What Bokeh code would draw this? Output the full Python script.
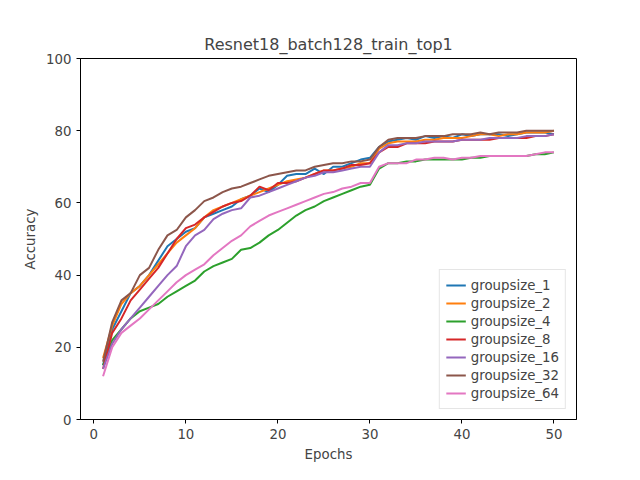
from bokeh.plotting import figure
from bokeh.embed import file_html
from bokeh.resources import INLINE
from bokeh.models import Range1d, Legend, FixedTicker

epochs = list(range(1, 51))
labels = ["groupsize_1", "groupsize_2", "groupsize_4", "groupsize_8",
          "groupsize_16", "groupsize_32", "groupsize_64"]
colors = ["#1f77b4", "#ff7f0e", "#2ca02c", "#d62728", "#9467bd", "#8c564b", "#e377c2"]

gs1 = [15, 25, 30, 35, 37, 40, 44, 48, 50, 52, 53, 56, 57, 58, 59, 61, 62, 64, 63, 65,
       67.5, 68, 68, 69.5, 68, 70, 70, 71, 72, 72.5, 75.5, 77, 77.5, 78, 77.5, 78.5, 78, 78.5, 78, 79,
       78.5, 79, 79, 79, 78.5, 79, 79.5, 79.5, 79.5, 79]
gs2 = [17, 26, 32, 35, 37, 40, 43, 46, 49, 51, 53, 56, 58, 59, 60, 61, 62, 63, 64, 65,
       66, 66.5, 67, 68, 69, 69, 69.5, 70, 71, 71, 75, 76.5, 77, 77, 77, 77.5, 77.5, 78, 78, 78,
       78.5, 79, 79, 78.5, 79, 79, 79.5, 79.5, 79.5, 80]
gs4 = [15, 22, 25, 28, 30, 31, 32, 34, 35.5, 37, 38.5, 41, 42.5, 43.5, 44.5, 47, 47.5, 49, 51, 52.5,
       54.5, 56.5, 58, 59, 60.5, 61.5, 62.5, 63.5, 64.5, 65, 69.5, 71, 71, 71.5, 71.5, 72, 72, 72, 72, 72,
       72.5, 72.5, 73, 73, 73, 73, 73, 73.5, 73.5, 74]
gs8 = [14, 24, 28, 33, 36, 39, 42, 46, 50, 53, 54, 56, 57.5, 59, 60, 60.5, 62, 64.5, 63.5, 65.5,
       65.5, 66, 67, 68, 69, 69, 69.5, 70.5, 70.5, 71, 74, 75.5, 75.5, 76.5, 76.5, 76.5, 77, 77, 77, 77.5,
       77.5, 77.5, 77.5, 78, 78, 78, 78, 78.5, 78.5, 79]
gs16 = [14, 21, 25, 28, 31, 34, 37, 40, 42.5, 48, 51, 52.5, 55.5, 57, 58, 58.5, 61.5, 62, 63, 64,
        65, 66, 67, 67.5, 68.5, 68.5, 69, 69.5, 70, 70, 74, 76, 76, 76.5, 76.5, 77, 77, 77, 77, 77.5,
        77.5, 77.5, 78, 78, 78, 78, 78.5, 78.5, 78.5, 79]
gs32 = [16, 27, 33, 35, 40, 42, 47, 51, 52.5, 56, 58, 60.5, 61.5, 63, 64, 64.5, 65.5, 66.5, 67.5, 68,
        68.5, 69, 69, 70, 70.5, 71, 71, 71.5, 71.5, 72, 75.5, 77.5, 78, 78, 78, 78.5, 78.5, 78.5, 79, 79,
        79, 79.5, 79, 79.5, 79.5, 79.5, 80, 80, 80, 80]
gs64 = [12, 20, 24, 26, 28, 30.5, 33, 35.5, 38, 40, 41.5, 43, 45.5, 47.5, 49.5, 51, 53.5, 55, 56.5, 57.5,
        58.5, 59.5, 60.5, 61.5, 62.5, 63, 64, 64.5, 65.5, 65.5, 70, 71, 71, 71, 72, 72, 72.5, 72.5, 72, 72.5,
        72.5, 73, 73, 73, 73, 73, 73, 73.5, 74, 74]
series = [gs1, gs2, gs4, gs8, gs16, gs32, gs64]

p = figure(width=624, height=464, output_backend="svg", toolbar_location=None,
           title="Resnet18_batch128_train_top1",
           x_range=Range1d(-1.45, 52.45), y_range=Range1d(0, 100),
           min_border_left=80, min_border_right=48, min_border_top=58, min_border_bottom=37)
p.title.align = "center"
p.title.text_font = "DejaVu Sans"
p.title.text_font_style = "normal"
p.title.text_font_size = "12pt"
p.xaxis.axis_label = "Epochs"
p.yaxis.axis_label = "Accuracy"
for ax in (p.xaxis, p.yaxis):
    ax.axis_label_text_font = "DejaVu Sans"
    ax.axis_label_text_font_style = "normal"
    ax.axis_label_text_font_size = "10pt"
    ax.major_label_text_font = "DejaVu Sans"
    ax.major_label_text_font_size = "10pt"
    ax.minor_tick_line_color = None
    ax.major_tick_in = 0
    ax.major_tick_out = 4
p.xaxis.ticker = FixedTicker(ticks=[0, 10, 20, 30, 40, 50])
p.yaxis.ticker = FixedTicker(ticks=[0, 20, 40, 60, 80, 100])
p.xgrid.visible = False
p.ygrid.visible = False
p.outline_line_color = "black"

items = []
for lab, col, ys in zip(labels, colors, series):
    r = p.line(epochs, ys, line_color=col, line_width=2)
    items.append((lab, [r]))

legend = Legend(items=items, location="bottom_right", label_text_font="DejaVu Sans",
                label_text_font_size="10pt", border_line_color="#cccccc", spacing=0,
                glyph_height=18, label_height=18, padding=6, margin=10)
p.add_layout(legend)

open("out.html", "w").write(file_html(p, INLINE))
